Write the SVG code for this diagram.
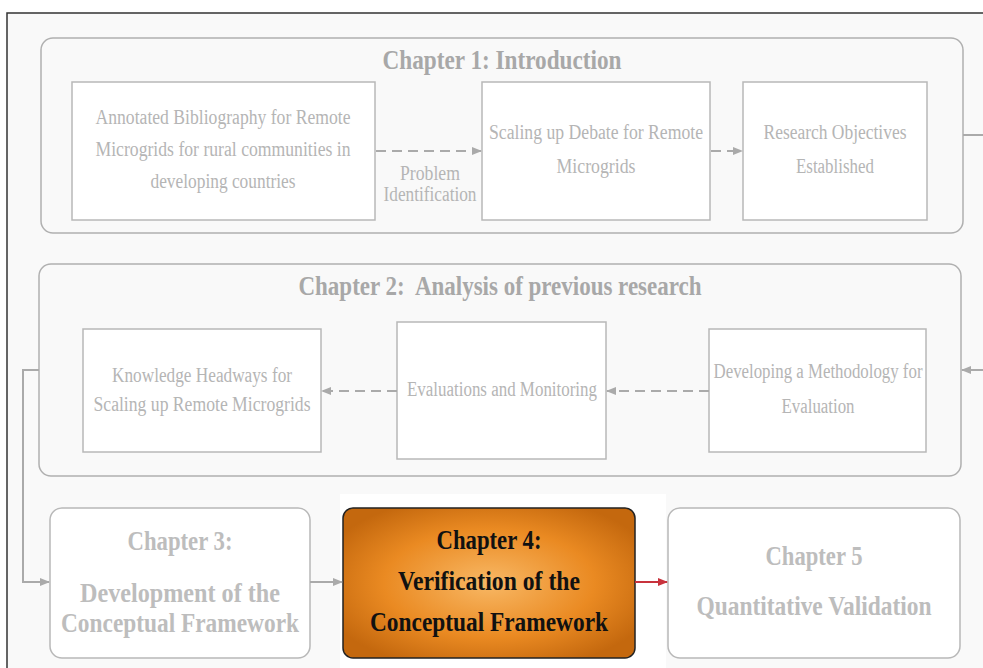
<svg xmlns="http://www.w3.org/2000/svg" width="983" height="668" viewBox="0 0 983 668">
<defs>
<style>
.frame{fill:none;stroke:#b0b0b0;stroke-width:1.5}
.box{fill:#ffffff;stroke:#b8b8b8;stroke-width:1.5}
.t{font-family:"Liberation Serif",serif;fill:#b5b5b5;font-size:20px;text-anchor:middle}
.h{font-family:"Liberation Serif",serif;fill:#a8a8a8;font-size:27px;font-weight:bold;text-anchor:middle}
.hc{font-family:"Liberation Serif",serif;fill:#bdbdbd;font-size:27px;font-weight:bold;text-anchor:middle}
.hk{font-family:"Liberation Serif",serif;fill:#111;font-size:27px;font-weight:bold;text-anchor:middle}
.dash{fill:none;stroke:#aaaaaa;stroke-width:2;stroke-dasharray:10,6}
.solid{fill:none;stroke:#aaaaaa;stroke-width:2}
</style>
<marker id="ag" viewBox="0 0 10 10" refX="9" refY="5" markerWidth="5" markerHeight="5" orient="auto" markerUnits="strokeWidth"><path d="M0,1 L10,5 L0,9 z" fill="#aaaaaa"/></marker>
<marker id="ar" viewBox="0 0 10 10" refX="9" refY="5" markerWidth="5" markerHeight="5" orient="auto" markerUnits="strokeWidth"><path d="M0,1 L10,5 L0,9 z" fill="#c8323c"/></marker>
<radialGradient id="og" cx="0.5" cy="0.5" r="0.6">
<stop offset="0" stop-color="#f8b865"/>
<stop offset="0.6" stop-color="#ea8a22"/>
<stop offset="1" stop-color="#c4680e"/>
</radialGradient>
</defs>
<rect x="0" y="0" width="983" height="668" fill="#ffffff"/>
<rect x="7" y="13" width="980" height="660" fill="#f9f9f9" stroke="#333" stroke-width="1.5"/>
<rect x="340" y="494" width="326" height="174" fill="#ffffff"/>

<g id="chapter1">
<rect class="frame" x="41" y="38" width="922" height="195" rx="12" fill="#f9f9f9"/>
<text class="h" x="502" y="69" textLength="239" lengthAdjust="spacingAndGlyphs">Chapter 1: Introduction</text>
</g>
<g id="annotated">
<rect class="box" x="72" y="82" width="303" height="138"/>
<text class="t" x="223" y="124" textLength="255" lengthAdjust="spacingAndGlyphs">Annotated Bibliography for Remote</text>
<text class="t" x="223" y="156" textLength="255" lengthAdjust="spacingAndGlyphs">Microgrids for rural communities in</text>
<text class="t" x="223" y="188" textLength="145" lengthAdjust="spacingAndGlyphs">developing countries</text>
</g>
<g id="scaling">
<rect class="box" x="482" y="82" width="228" height="138"/>
<text class="t" x="596" y="139" textLength="214" lengthAdjust="spacingAndGlyphs">Scaling up Debate for Remote</text>
<text class="t" x="596" y="173" textLength="79" lengthAdjust="spacingAndGlyphs">Microgrids</text>
</g>
<g id="objectives">
<rect class="box" x="743" y="82" width="184" height="138"/>
<text class="t" x="835" y="139" textLength="143" lengthAdjust="spacingAndGlyphs">Research Objectives</text>
<text class="t" x="835" y="173" textLength="78" lengthAdjust="spacingAndGlyphs">Established</text>
</g>

<g id="chapter2">
<rect class="frame" x="39" y="264" width="922" height="212" rx="12" fill="#f9f9f9"/>
<text class="h" x="500" y="295" textLength="403" lengthAdjust="spacingAndGlyphs" xml:space="preserve">Chapter 2:  Analysis of previous research</text>
</g>
<g id="knowledge">
<rect class="box" x="83" y="329" width="238" height="123"/>
<text class="t" x="202" y="382" textLength="180" lengthAdjust="spacingAndGlyphs">Knowledge Headways for</text>
<text class="t" x="202" y="411" textLength="217" lengthAdjust="spacingAndGlyphs">Scaling up Remote Microgrids</text>
</g>
<g id="evaluations">
<rect class="box" x="397" y="322" width="209" height="137"/>
<text class="t" x="502" y="396" textLength="190" lengthAdjust="spacingAndGlyphs">Evaluations and Monitoring</text>
</g>
<g id="methodology">
<rect class="box" x="709" y="329" width="217" height="123"/>
<text class="t" x="818" y="378" textLength="209" lengthAdjust="spacingAndGlyphs">Developing a Methodology for</text>
<text class="t" x="818" y="413" textLength="73" lengthAdjust="spacingAndGlyphs">Evaluation</text>
</g>

<g id="chapter3">
<rect class="box" x="50" y="508" width="260" height="150" rx="12"/>
<text class="hc" x="180" y="550" textLength="105" lengthAdjust="spacingAndGlyphs">Chapter 3:</text>
<text class="hc" x="180" y="602" font-size="26" textLength="200" lengthAdjust="spacingAndGlyphs">Development of the</text>
<text class="hc" x="180" y="632" font-size="26" textLength="238" lengthAdjust="spacingAndGlyphs">Conceptual Framework</text>
</g>
<g id="chapter4">
<rect x="343" y="508" width="292" height="150" rx="10" fill="url(#og)" stroke="#222" stroke-width="1.5"/>
<text class="hk" x="489" y="549" textLength="105" lengthAdjust="spacingAndGlyphs">Chapter 4:</text>
<text class="hk" x="489" y="590" textLength="182" lengthAdjust="spacingAndGlyphs">Verification of the</text>
<text class="hk" x="489" y="631" textLength="238" lengthAdjust="spacingAndGlyphs">Conceptual Framework</text>
</g>
<g id="chapter5">
<rect class="box" x="668" y="508" width="292" height="150" rx="12"/>
<text class="hc" x="814" y="565" textLength="97" lengthAdjust="spacingAndGlyphs">Chapter 5</text>
<text class="hc" x="814" y="615" textLength="235" lengthAdjust="spacingAndGlyphs">Quantitative Validation</text>
</g>

<g id="connectors">
<path class="dash" d="M376,151 H481" marker-end="url(#ag)"/>
<text class="t" x="430" y="180" textLength="60" lengthAdjust="spacingAndGlyphs">Problem</text>
<text class="t" x="430" y="201" textLength="93" lengthAdjust="spacingAndGlyphs">Identification</text>
<path class="dash" d="M711,151 H742" stroke-dasharray="6,6" marker-end="url(#ag)"/>
<path class="solid" d="M963,135 H983"/>
<path class="solid" d="M983,370 H962" marker-end="url(#ag)"/>
<path class="dash" d="M709,391 H607" marker-end="url(#ag)"/>
<path class="dash" d="M397,391 H322" marker-end="url(#ag)"/>
<path class="solid" d="M39,370 H23 V582 H49" marker-end="url(#ag)"/>
<path class="solid" d="M310,582 H342" marker-end="url(#ag)"/>
<path d="M635,582 H667" fill="none" stroke="#c8323c" stroke-width="2" marker-end="url(#ar)"/>
</g>
</svg>
